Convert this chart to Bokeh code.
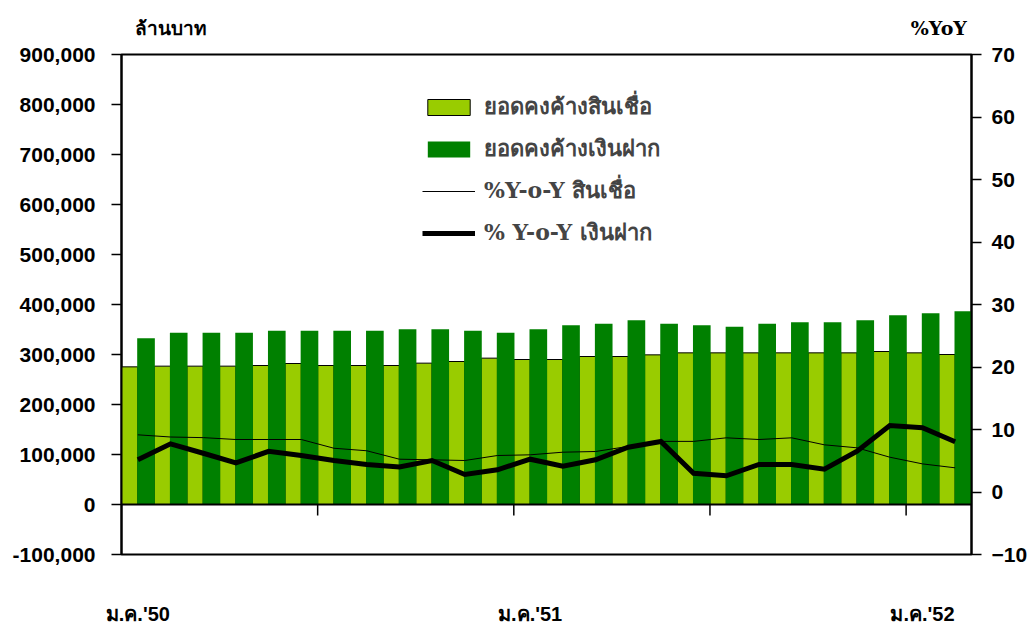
from bokeh.plotting import figure
from bokeh.models import (Range1d, LinearAxis, FixedTicker, NumeralTickFormatter, Span,
                          Legend, LegendItem, ColumnDataSource)
from bokeh.embed import file_html
from bokeh.resources import INLINE

# ---------------- data ----------------
months = ["ม.ค.'50", "ก.พ.'50", "มี.ค.'50", "เม.ย.'50", "พ.ค.'50", "มิ.ย.'50",
          "ก.ค.'50", "ส.ค.'50", "ก.ย.'50", "ต.ค.'50", "พ.ย.'50", "ธ.ค.'50",
          "ม.ค.'51", "ก.พ.'51", "มี.ค.'51", "เม.ย.'51", "พ.ค.'51", "มิ.ย.'51",
          "ก.ค.'51", "ส.ค.'51", "ก.ย.'51", "ต.ค.'51", "พ.ย.'51", "ธ.ค.'51",
          "ม.ค.'52", "ก.พ.'52"]
# outstanding loans (million baht)
loans = [275300, 276700, 276700, 276700, 278000, 282000, 278000, 278000, 278000,
         282700, 286000, 292700, 290000, 290000, 296000, 296000, 299300, 303300,
         303300, 303300, 303300, 303300, 303300, 306000, 303300, 300000]
# outstanding deposits (million baht)
deposits = [332700, 343300, 343300, 343300, 347300, 347300, 347300, 347300, 350700,
            350700, 347300, 343300, 350700, 358700, 361300, 368700, 361300, 358700,
            355300, 361300, 364700, 364700, 368700, 378700, 382700, 386700]
# %YoY loans
loan_yoy = [9.15, 8.8, 8.7, 8.4, 8.4, 8.4, 7.0, 6.6, 5.25, 5.15, 5.04, 5.84, 5.95,
            6.37, 6.48, 7.3, 8.1, 8.1, 8.67, 8.4, 8.67, 7.55, 7.07, 5.57, 4.5, 3.87]
# %YoY deposits
dep_yoy = [5.15, 7.7, 6.2, 4.67, 6.5, 5.84, 5.04, 4.4, 4.0, 5.04, 2.8, 3.55, 5.25,
           4.13, 5.15, 7.17, 8.08, 3.0, 2.6, 4.4, 4.4, 3.65, 6.53, 10.64, 10.27, 8.03]

series_names = ["ยอดคงค้างสินเชื่อ", "ยอดคงค้างเงินฝาก", "%Y-o-Y สินเชื่อ", "% Y-o-Y เงินฝาก"]
left_title = "ล้านบาท"
right_title = "%YoY"
label_every = 12
left_ticks = list(range(-100000, 900001, 100000))
right_ticks = list(range(-10, 71, 10))

# ---------------- build ----------------
n = len(months)
idx = list(range(n))
src = ColumnDataSource(dict(
    x=idx,
    xl=[i - 0.25 for i in idx],
    xd=[i + 0.25 for i in idx],
    loans=loans, deposits=deposits, loan_yoy=loan_yoy, dep_yoy=dep_yoy,
))

FONT = "Liberation Sans"
p = figure(width=1030, height=627, x_range=Range1d(-0.5, n - 0.5),
           y_range=Range1d(-100000, 900000),
           output_backend="svg", toolbar_location=None,
           min_border_left=121, min_border_right=57, min_border_top=54, min_border_bottom=73)
p.extra_y_ranges = {"yoy": Range1d(-10, 70)}
p.xgrid.visible = False
p.ygrid.visible = False
p.outline_line_color = "black"
p.outline_line_width = 2
p.background_fill_color = "white"
p.border_fill_color = "white"

r_loan = p.vbar(x="xl", width=0.5, top="loans", bottom=0, source=src,
                fill_color="#99CC00", line_color="black", line_width=1)
r_dep = p.vbar(x="xd", width=0.54, top="deposits", bottom=0, source=src,
               fill_color="#008000", line_color=None)

p.add_layout(Span(location=0, dimension="width", line_color="black", line_width=2))
tick_pos = [k * 6 - 0.5 for k in range(1, n // 6 + 1)]
p.segment(x0=tick_pos, y0=[0] * len(tick_pos), x1=tick_pos, y1=[-22000] * len(tick_pos),
          line_color="black", line_width=1.5)

r_ly = p.line(x="x", y="loan_yoy", source=src, y_range_name="yoy",
              line_color="black", line_width=1)
r_dy = p.line(x="x", y="dep_yoy", source=src, y_range_name="yoy",
              line_color="black", line_width=5, line_join="miter")

# bottom axis (month labels)
xa = p.xaxis[0]
xa.ticker = FixedTicker(ticks=list(range(0, n, label_every)))
xa.major_label_overrides = {i: months[i] for i in range(0, n, label_every)}
xa.axis_line_color = None
xa.major_tick_line_color = None
xa.minor_tick_line_color = None
xa.major_label_standoff = 42
xa.major_label_text_font = FONT
xa.major_label_text_font_style = "bold"
xa.major_label_text_font_size = "20px"
xa.major_label_text_color = "black"

# left axis
ya = p.yaxis[0]
ya.ticker = FixedTicker(ticks=left_ticks)
ya.formatter = NumeralTickFormatter(format="0,0")
ya.major_tick_out = 10
ya.major_tick_in = 0
ya.major_tick_line_width = 1.5
ya.minor_tick_line_color = None
ya.axis_line_width = 2
ya.major_label_standoff = 16
ya.major_label_text_font = FONT
ya.major_label_text_font_style = "bold"
ya.major_label_text_font_size = "21px"
ya.major_label_text_color = "black"

# right axis
ra = LinearAxis(y_range_name="yoy", ticker=FixedTicker(ticks=right_ticks))
ra.major_tick_out = 10
ra.major_tick_in = 0
ra.major_tick_line_width = 1.5
ra.minor_tick_line_color = None
ra.axis_line_width = 2
ra.major_label_standoff = 10
ra.major_label_text_font = FONT
ra.major_label_text_font_style = "bold"
ra.major_label_text_font_size = "21px"
ra.major_label_text_color = "black"
p.add_layout(ra, "right")

# axis titles, drawn as labels of a bare axis above the frame
title_pos = [1.0, n - 1.5]
ta = LinearAxis(ticker=FixedTicker(ticks=title_pos),
                major_label_overrides={title_pos[0]: left_title, title_pos[1]: right_title})
ta.axis_line_color = None
ta.major_tick_line_color = None
ta.minor_tick_line_color = None
ta.major_label_standoff = 10
ta.major_label_text_font = "DejaVu Serif"
ta.major_label_text_font_style = "bold"
ta.major_label_text_font_size = "19px"
ta.major_label_text_color = "black"
p.add_layout(ta, "above")

legend = Legend(items=[LegendItem(label=series_names[0], renderers=[r_loan]),
                       LegendItem(label=series_names[1], renderers=[r_dep]),
                       LegendItem(label=series_names[2], renderers=[r_ly]),
                       LegendItem(label=series_names[3], renderers=[r_dy])],
                location=(301, 304), glyph_width=53, glyph_height=20, label_height=20,
                label_standoff=9, spacing=7, padding=10, margin=0,
                label_text_font="DejaVu Serif", label_text_font_style="bold",
                label_text_font_size="22px", border_line_color=None,
                background_fill_alpha=0)
p.add_layout(legend)

open("out.html", "w").write(file_html(p, INLINE))
